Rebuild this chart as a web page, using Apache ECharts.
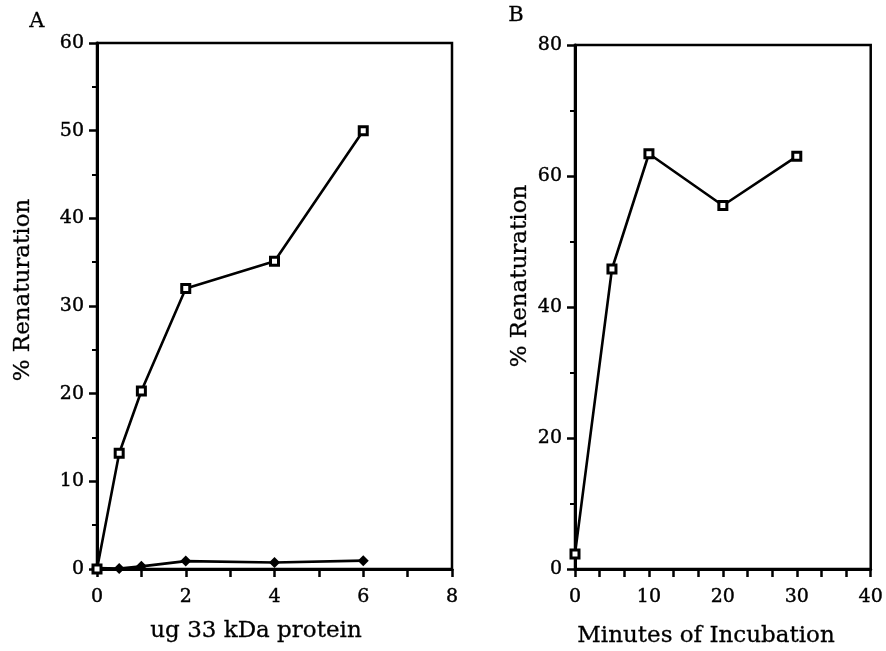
<!DOCTYPE html>
<html>
<head>
<meta charset="utf-8">
<script src="https://cdn.jsdelivr.net/npm/echarts@6/dist/echarts.min.js"></script>
<style>
  html, body { margin: 0; padding: 0; background: #fff; }
  #chart { width: 886px; height: 651px; }
</style>
</head>
<body>
<div id="chart"></div>
<script>
// panel A: % renaturation vs amount of 33 kDa protein
var doseUg = [0, 0.5, 1, 2, 4, 6];
var withChaperone = [0, 13.2, 20.3, 32.0, 35.1, 50.0];
var controlDose = [0.1, 0.05, 0.3, 0.9, 0.75, 0.95];

// panel B: % renaturation vs minutes of incubation
var minutes = [0, 5, 10, 20, 30];
var timeCourse = [2.3, 45.8, 63.4, 55.5, 63.0];

var serif = '"DejaVu Serif", "Liberation Serif", serif';

function pairs(xs, ys) {
    return xs.map(function (x, i) { return [x, ys[i]]; });
}

var myChart = echarts.init(document.getElementById('chart'));

function xAxisOf(gridIndex, max, interval, split) {
    return {
        type: 'value', gridIndex: gridIndex, min: 0, max: max, interval: interval,
        axisLine: { lineStyle: { color: '#000', width: 3 } },
        axisTick: { length: 8, lineStyle: { color: '#000', width: 2.5 } },
        minorTick: { show: true, splitNumber: split, length: 8, lineStyle: { color: '#000', width: 2.5 } },
        axisLabel: { color: '#000', fontFamily: serif, fontSize: 19, margin: 19, textBorderColor: '#000', textBorderWidth: 0.4 },
        splitLine: { show: false }
    };
}

function yAxisOf(gridIndex, max, interval) {
    return {
        type: 'value', gridIndex: gridIndex, min: 0, max: max, interval: interval,
        axisLine: { lineStyle: { color: '#000', width: 3 } },
        axisTick: { length: 8, lineStyle: { color: '#000', width: 2.5 } },
        minorTick: { show: true, splitNumber: 2, length: 5, lineStyle: { color: '#000', width: 2 } },
        axisLabel: { color: '#000', fontFamily: serif, fontSize: 19, margin: 13, textBorderColor: '#000', textBorderWidth: 0.4 },
        splitLine: { show: false }
    };
}

var openSquare = {
    symbol: 'rect', symbolSize: 8,
    itemStyle: { color: '#fff', borderColor: '#000', borderWidth: 3 },
    lineStyle: { color: '#000', width: 2.6 }
};

var titleFont = '23px ' + serif;

function title(text, x, y, rotated) {
    return {
        type: 'text', x: x, y: y, rotation: rotated ? Math.PI / 2 : 0,
        style: { text: text, font: titleFont, fill: '#000', stroke: '#000', lineWidth: 0.3, align: 'center', verticalAlign: 'middle' }
    };
}

option = {
    backgroundColor: '#fff',
    animation: false,
    grid: [
        { left: 97, right: 434, top: 43, bottom: 82, show: true, borderColor: '#000', borderWidth: 2.5 },
        { left: 575, right: 11, top: 45, bottom: 82, show: true, borderColor: '#000', borderWidth: 2.5 }
    ],
    xAxis: [
        xAxisOf(0, 8, 2, 2),
        xAxisOf(1, 40, 10, 3)
    ],
    yAxis: [
        yAxisOf(0, 60, 10),
        yAxisOf(1, 80, 20)
    ],
    graphic: [
        { type: 'text', left: 29, top: 11, style: { text: 'A', font: '21px ' + serif, fill: '#000', stroke: '#000', lineWidth: 0.3 } },
        { type: 'text', left: 508, top: 5, style: { text: 'B', font: '21px ' + serif, fill: '#000', stroke: '#000', lineWidth: 0.3 } },
        title('% Renaturation', 23, 290, true),
        title('% Renaturation', 520, 276, true),
        title('ug 33 kDa protein', 256, 631, false),
        title('Minutes of Incubation', 706, 636, false)
    ],
    series: [
        Object.assign({ type: 'line', xAxisIndex: 0, yAxisIndex: 0, data: pairs(doseUg, controlDose), z: 2 }, {
            symbol: 'diamond', symbolSize: 11,
            itemStyle: { color: '#000' },
            lineStyle: { color: '#000', width: 2.6 }
        }),
        Object.assign({ type: 'line', xAxisIndex: 0, yAxisIndex: 0, data: pairs(doseUg, withChaperone), z: 3 }, openSquare),
        Object.assign({ type: 'line', xAxisIndex: 1, yAxisIndex: 1, data: pairs(minutes, timeCourse), z: 3 }, openSquare)
    ]
};

myChart.setOption(option);
</script>
</body>
</html>
